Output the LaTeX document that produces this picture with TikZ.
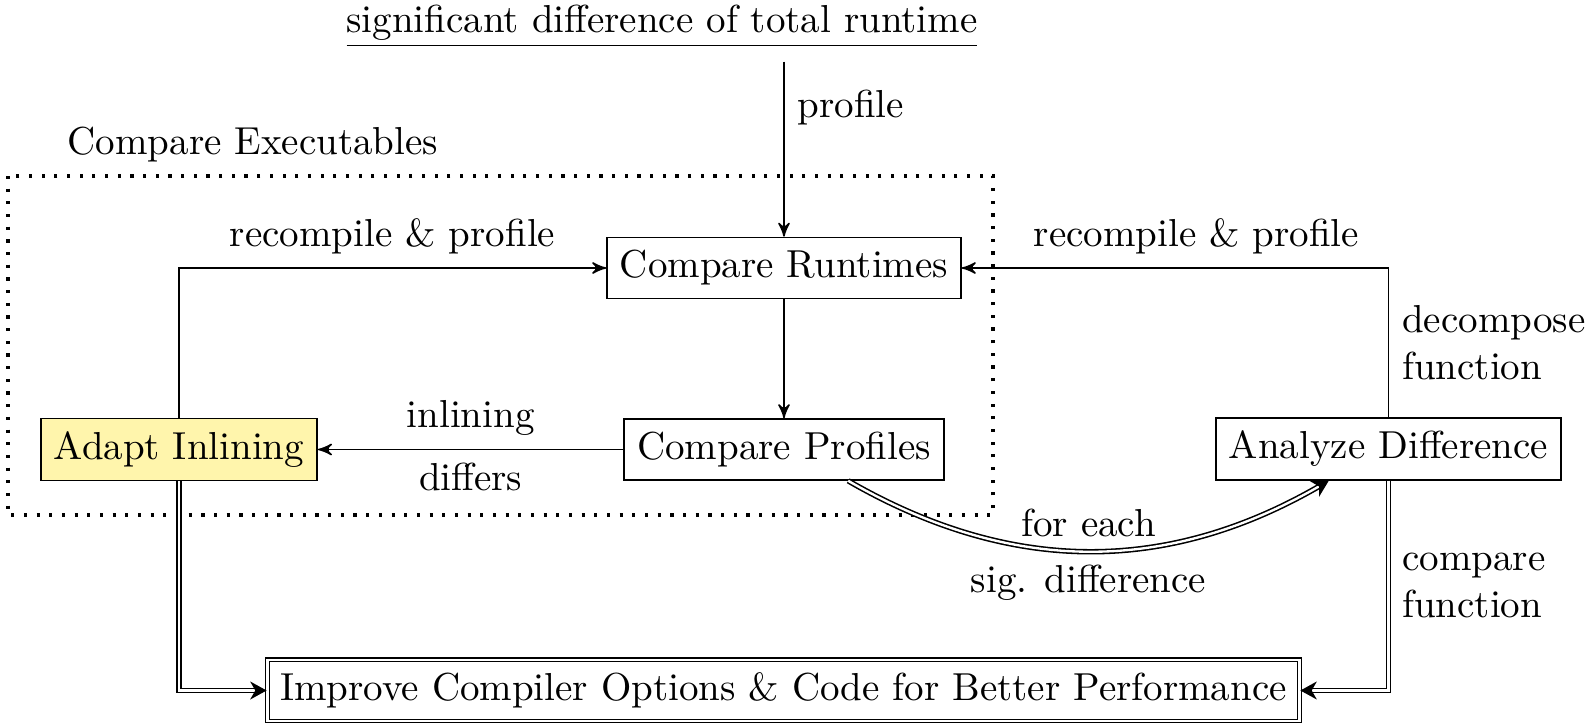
\documentclass[tikz,border=0pt]{standalone}
\usetikzlibrary{arrows,arrows.meta}
\definecolor{hl}{RGB}{255,245,172}
\tikzset{
 >=stealth',
 box/.style={draw, line width=0.4pt, inner sep=3.333pt},
 lbl/.style={inner sep=3.333pt},
 dbl/.style={double, -{Stealth[length=4.2pt, width=4.6pt, inset=1.3pt]}},
 dotbox/.style={line width=0.8pt, dash pattern=on 0.8pt off 2.45pt}
}
\begin{document}
\begin{tikzpicture}[x=0.2564pt,y=-0.2564pt]
\useasboundingbox (0,0) rectangle (1589,723);
\draw[dotbox] (8,176) rectangle (993,515);
\node[anchor=base west, inner sep=0] (ce) at (67,154) {Compare Executables};
\node[anchor=base] (top) at (662,32) {\underline{significant difference of total runtime}};
\node[box] (cr) at (784,268) {Compare Runtimes};
\node[box] (cp) at (784,449.5) {Compare Profiles};
\node[box, fill=hl] (ai) at (179,449.5) {Adapt Inlining};
\node[box] (ad) at (1388.5,449) {Analyze Difference};
\node[box, double] (imp) at (783.5,690.5) {Improve Compiler Options \& Code for Better Performance};

\draw[->] (top.south -| cr.north) -- node[lbl, right, pos=0.26] {profile} (cr.north);
\draw[->] (cr) -- (cp);
\draw[->] (cp) -- node[lbl, above]{inlining} node[lbl, below]{differs} (ai);
\draw[->] (ai) |- node[lbl, above, pos=0.75] {recompile \& profile} (cr);
\draw[->] (ad) |- node[lbl, right, pos=0.25, align=left] {decompose\\function} node[lbl, above, pos=0.725] {recompile \& profile} (cr);
\draw[dbl] (ai) |- (imp);
\draw[dbl] (ad) |- node[lbl, right, pos=0.25, align=left]{compare\\function} (imp);
\draw[dbl] (cp.-26) to[bend right=30] node[lbl, above]{for each} node[lbl, below]{sig. difference} (ad.-152);
\end{tikzpicture}
\end{document}
